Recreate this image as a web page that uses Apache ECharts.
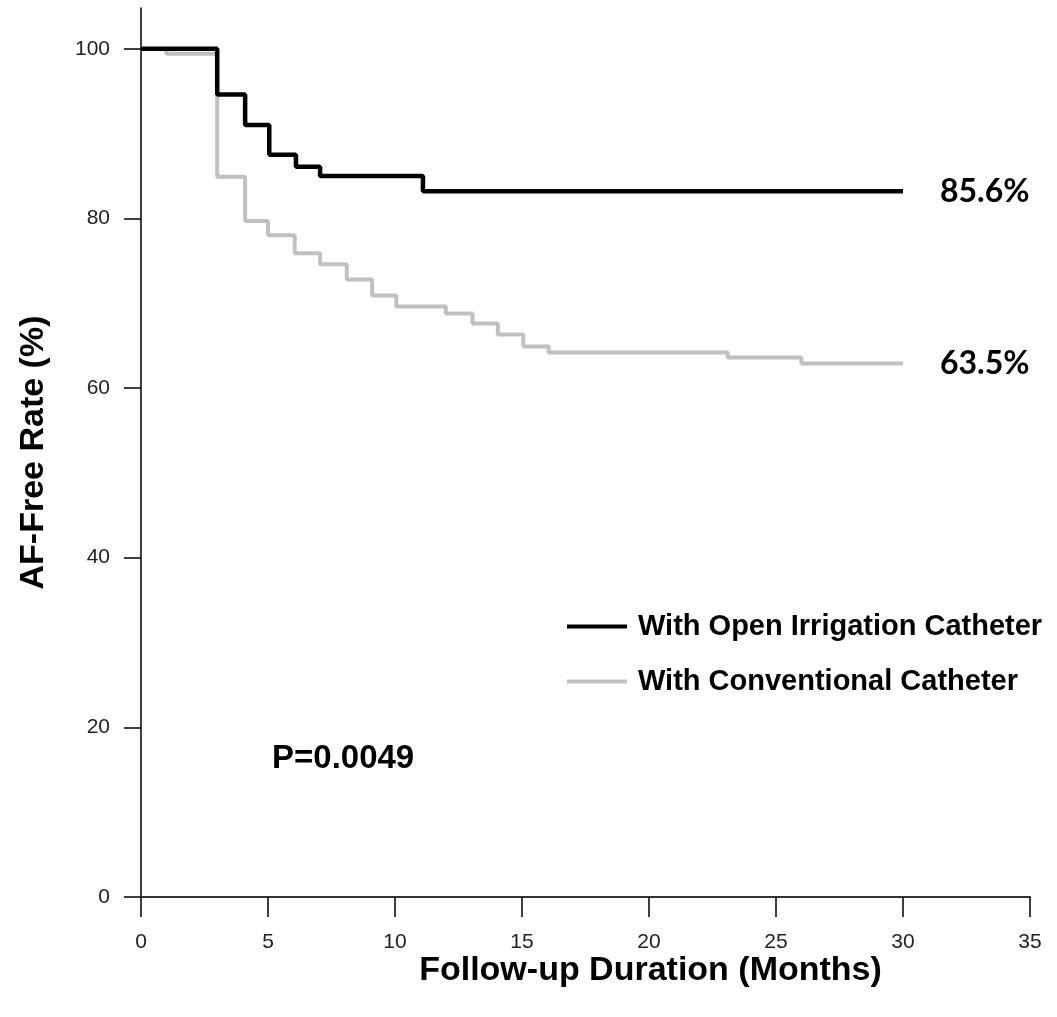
<!DOCTYPE html>
<html>
<head>
<meta charset="utf-8">
<title>AF-Free Rate</title>
<script src="https://cdn.jsdelivr.net/npm/echarts@6/dist/echarts.min.js"></script>
<style>
  html, body { margin: 0; padding: 0; background: #fff; }
  #chart { width: 1057px; height: 1017px; }
</style>
</head>
<body>
<div id="chart"></div>
<script>
// Kaplan-Meier step curves: months of follow-up and AF-free rate (%)
const openTimes = [0, 3, 4.1, 5.05, 6.1, 7.05, 11.1, 30];
const openRates = [100, 94.6, 91.0, 87.5, 86.1, 85.0, 83.2, 83.2];

const convTimes = [0, 1, 3, 4.1, 5.0, 6.05, 7.05, 8.1, 9.1, 10.05, 12.0, 13.05, 14.05, 15.05, 16.05, 23.1, 26.0, 30];
const convRates = [100, 99.4, 84.9, 79.7, 78.0, 75.9, 74.6, 72.8, 70.9, 69.6, 68.8, 67.6, 66.3, 64.9, 64.2, 63.6, 62.9, 62.9];

const seriesNames = ['With Open Irrigation Catheter', 'With Conventional Catheter'];
const finalLabels = ['85.6%', '63.5%'];
const pValueText = 'P=0.0049';

const xTicks = [0, 5, 10, 15, 20, 25, 30, 35];
const yTicks = [0, 20, 40, 60, 80, 100];

const pairs = (xs, ys) => xs.map((x, i) => [x, ys[i]]);

const chart = echarts.init(document.getElementById('chart'), null, { renderer: 'canvas' });

const endLabel = (text) => ({
  show: true,
  formatter: () => text,
  distance: 37,
  fontFamily: 'Lato, "Open Sans", sans-serif',
  fontWeight: 'bold',
  fontSize: 32,
  color: '#000'
});

const titleFont = {
  fontFamily: '"Liberation Sans", Arial, sans-serif',
  fontWeight: 'bold',
  fontSize: 34,
  color: '#000'
};

const tickFont = {
  fontFamily: '"Liberation Sans", Arial, sans-serif',
  fontSize: 21,
  color: '#222'
};

chart.setOption({
  backgroundColor: '#fff',
  animation: false,
  grid: { left: 141, right: 27, top: 8, bottom: 120, containLabel: false },
  xAxis: {
    type: 'value',
    min: 0,
    max: 35,
    interval: 5,
    name: 'Follow-up Duration (Months)',
    nameLocation: 'middle',
    nameGap: 57,
    nameMoveOverlap: false,
    // title sits right of the axis centre
    nameTextStyle: Object.assign({ padding: [0, 0, 0, 130] }, titleFont),
    axisLine: { show: true, lineStyle: { color: '#333', width: 2 } },
    axisTick: { show: true, length: 20, customValues: xTicks, lineStyle: { color: '#000', width: 1.5 } },
    axisLabel: Object.assign({ customValues: xTicks, margin: 35 }, tickFont),
    splitLine: { show: false }
  },
  yAxis: {
    type: 'value',
    min: 0,
    max: 104.8,
    name: 'AF-Free Rate (%)',
    nameLocation: 'middle',
    nameGap: 90,
    nameTextStyle: titleFont,
    axisLine: { show: true, lineStyle: { color: '#000', width: 1.5 } },
    axisTick: { show: true, length: 17, customValues: yTicks, lineStyle: { color: '#000', width: 1.5 } },
    axisLabel: Object.assign({ customValues: yTicks, margin: 31 }, tickFont),
    splitLine: { show: false }
  },
  legend: {
    orient: 'vertical',
    left: 562,
    top: 607,
    itemWidth: 60,
    itemHeight: 4,
    itemGap: 26,
    icon: 'rect',
    data: seriesNames.map((name) => ({ name })),
    textStyle: {
      fontFamily: '"Liberation Sans", Arial, sans-serif',
      fontWeight: 'bold',
      fontSize: 29,
      lineHeight: 29,
      color: '#000',
      padding: [0, 0, 0, 6]
    }
  },
  graphic: [
    {
      type: 'text',
      left: 272,
      top: 742,
      style: {
        text: pValueText,
        font: 'bold 33px "Liberation Sans", Arial, sans-serif',
        fill: '#000'
      }
    }
  ],
  series: [
    {
      name: seriesNames[1],
      type: 'line',
      step: 'end',
      data: pairs(convTimes, convRates),
      showSymbol: false,
      symbol: 'none',
      z: 2,
      lineStyle: { color: '#c0c0c0', width: 4 },
      itemStyle: { color: '#c0c0c0' },
      endLabel: endLabel(finalLabels[1])
    },
    {
      name: seriesNames[0],
      type: 'line',
      step: 'end',
      data: pairs(openTimes, openRates),
      showSymbol: false,
      symbol: 'none',
      z: 3,
      lineStyle: { color: '#000', width: 4.5 },
      itemStyle: { color: '#000' },
      endLabel: endLabel(finalLabels[0])
    }
  ]
});
</script>
</body>
</html>
